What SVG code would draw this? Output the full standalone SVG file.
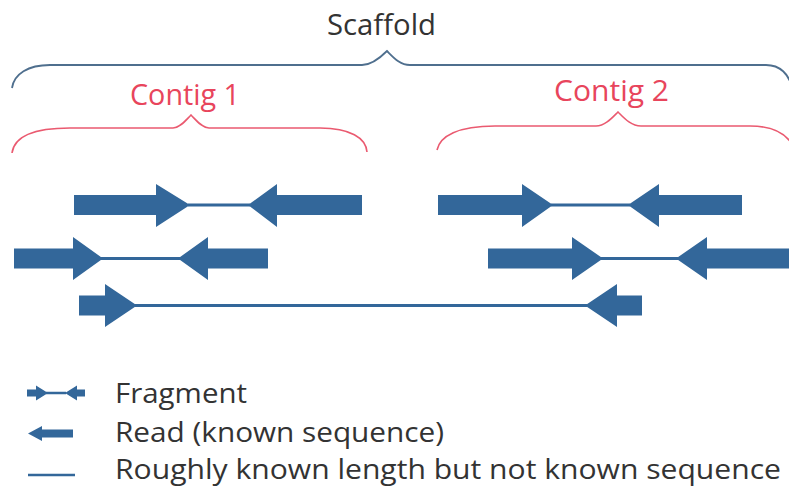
<svg xmlns="http://www.w3.org/2000/svg" width="789" height="489" viewBox="0 0 789 489">
<style>
.bg{fill:#ffffff}
.lbl{font-family:"Open Sans","Liberation Sans",sans-serif;font-size:29px}
.sc{fill:#333333}
.ct{fill:#e8455c}
.lg{font-family:"Open Sans","Liberation Sans",sans-serif;font-size:28px;fill:#333333}
.br-s{fill:none;stroke:#4f6f8e;stroke-width:1.8}
.br-c{fill:none;stroke:#ea5a70;stroke-width:1.6}
.rd{fill:#33679a}
.gap{stroke:#33679a;stroke-width:3;fill:none}
</style>
<rect class="bg" x="0" y="0" width="789" height="489"/>

<g id="scaffold">
  <text class="lbl sc" x="327" y="35" textLength="109" lengthAdjust="spacingAndGlyphs">Scaffold</text>
  <path class="br-s" d="M12,88 C14,74 28,65 50,65 L362,65 C372,65 380,58 387,51 C394,58 400,65 410,65 L766,65 C780,65 789,74 792,88"/>
</g>

<g id="contig1">
  <text class="lbl ct" x="130" y="105" textLength="110" lengthAdjust="spacingAndGlyphs">Contig 1</text>
  <path class="br-c" d="M12,153 C14,138 30,128 70,128 L173,128 C180,128 186,120 191,115 C196,120 202,128 209,128 L320,128 C350,128 366,138 367,152"/>
</g>

<g id="contig2">
  <text class="lbl ct" x="554" y="101" textLength="115" lengthAdjust="spacingAndGlyphs">Contig 2</text>
  <path class="br-c" d="M437,150 C440,136 458,126 495,126 L596,126 C605,126 612,118 618,112 C624,118 631,126 641,126 L750,126 C775,126 789,135 795,150"/>
</g>

<g id="connectors">
  <line class="gap" x1="188" y1="205" x2="250" y2="205"/>
  <line class="gap" x1="551" y1="205" x2="630" y2="205"/>
  <line class="gap" x1="101" y1="258.5" x2="180" y2="258.5"/>
  <line class="gap" x1="601" y1="258.5" x2="678" y2="258.5"/>
  <line class="gap" x1="135" y1="305.5" x2="587" y2="305.5"/>
</g>

<g id="fragment-1">
  <polygon class="rd" points="74,195 156,195 156,184 190,205 156,227 156,215 74,215"/>
  <polygon class="rd" points="362,195 277,195 277,184 248,205 277,227 277,215 362,215"/>
</g>
<g id="fragment-2">
  <polygon class="rd" points="438,195 522,195 522,184 553,205 522,227 522,215 438,215"/>
  <polygon class="rd" points="742,195 659,195 659,184 628,205 659,227 659,215 742,215"/>
</g>
<g id="fragment-3">
  <polygon class="rd" points="14,248.5 73,248.5 73,237 103,258.5 73,280 73,268.5 14,268.5"/>
  <polygon class="rd" points="268,248.5 208,248.5 208,237 178,258.5 208,280 208,268.5 268,268.5"/>
</g>
<g id="fragment-4">
  <polygon class="rd" points="488,248.5 572,248.5 572,237 603,258.5 572,280 572,268.5 488,268.5"/>
  <polygon class="rd" points="795,248.5 707,248.5 707,237 676,258.5 707,280 707,268.5 795,268.5"/>
</g>
<g id="fragment-5">
  <polygon class="rd" points="79,295.5 105,295.5 105,284 137,305.5 105,327 105,315.5 79,315.5"/>
  <polygon class="rd" points="642,295.5 617,295.5 617,284 585,305.5 617,327 617,315.5 642,315.5"/>
</g>

<g id="legend">
  <g id="legend-fragment">
    <line class="gap" x1="46" y1="393" x2="66" y2="393" style="stroke-width:2.5"/>
    <polygon class="rd" points="27,389.5 36,389.5 36,385.5 48,393 36,400.5 36,396.5 27,396.5"/>
    <polygon class="rd" points="85,389.5 77,389.5 77,385.5 65,393 77,400.5 77,396.5 85,396.5"/>
    <text class="lg" x="115" y="403" textLength="132" lengthAdjust="spacingAndGlyphs">Fragment</text>
  </g>
  <g id="legend-read">
    <polygon class="rd" points="73,429.5 42,429.5 42,426 28,433.5 42,441 42,437.5 73,437.5"/>
    <text class="lg" x="115" y="442" textLength="329" lengthAdjust="spacingAndGlyphs">Read (known sequence)</text>
  </g>
  <g id="legend-line">
    <line class="gap" x1="28" y1="475" x2="75" y2="475" style="stroke-width:2.5"/>
    <text class="lg" x="115" y="479" textLength="666" lengthAdjust="spacingAndGlyphs">Roughly known length but not known sequence</text>
  </g>
</g>
</svg>
